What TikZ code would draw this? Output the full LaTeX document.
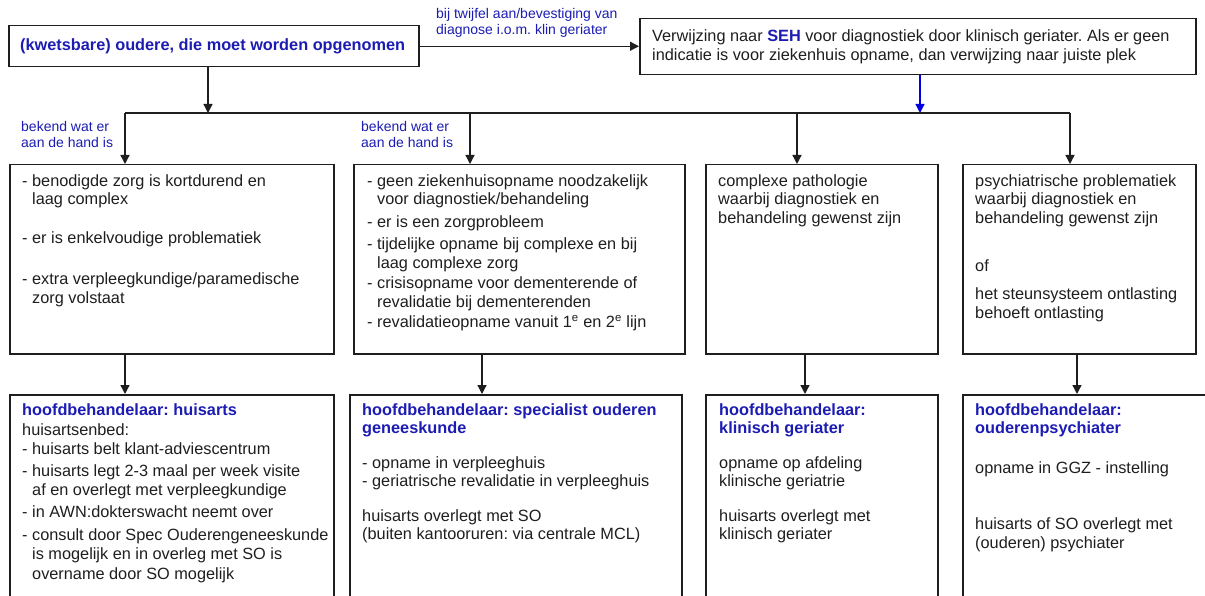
\documentclass[tikz,border=0pt]{standalone}
\usepackage{fontspec}
\setmainfont{Liberation Sans}
\usetikzlibrary{arrows.meta}
\definecolor{headblue}{RGB}{28,28,178}
\definecolor{linkblue}{RGB}{0,0,225}
\definecolor{ink}{RGB}{30,30,30}
\newcommand{\hd}[1]{\textcolor{headblue}{\textbf{#1}}}
\newcommand{\hng}{\hspace*{10pt}}
\frenchspacing

\begin{document}
\begin{tikzpicture}[x=1pt,y=-1pt,>={Triangle[length=9pt,width=9pt]},
  box/.style={draw=ink,line width=1.5pt,anchor=north west,inner sep=0pt},
  txt/.style={anchor=north west,inner sep=0pt,align=left,text=ink,font=\fontsize{16.3}{18.5}\selectfont},
  note/.style={anchor=north west,inner sep=0pt,align=left,text=headblue,font=\fontsize{14}{16}\selectfont},
  link/.style={->,line width=1.3pt,draw=ink}]
  \useasboundingbox (0,0) rectangle (1205,596);
  \clip (0,0) rectangle (1205,596);

  % top row
  \node[box,minimum width=410pt,minimum height=41pt] (start) at (8,25) {};
  \node[anchor=west,inner sep=0pt,text=headblue,font=\fontsize{16.3}{18.5}\selectfont\bfseries] (startt)
    at ([xshift=12pt]start.west) {(kwetsbare) oudere, die moet worden opgenomen};
  \node[box,minimum width=556pt,minimum height=56pt] (seh) at (639,18) {};
  \node[txt,anchor=west] (seht) at ([xshift=13pt]seh.west)
    {Verwijzing naar \hd{SEH} voor diagnostiek door klinisch geriater. Als er geen\\
     indicatie is voor ziekenhuis opname, dan verwijzing naar juiste plek};
  \node[note] (doubt) at (436,8) {bij twijfel aan/bevestiging van\\diagnose i.o.m. klin geriater};
  \draw[link] (start.east) -- (seh.west |- start.east);

  % conditions
  \node[box,minimum width=324pt,minimum height=189pt] (c1) at (9,164) {};
  \node[box,minimum width=331pt,minimum height=189pt] (c2) at (353,164) {};
  \node[box,minimum width=232pt,minimum height=189pt] (c3) at (705,164) {};
  \node[box,minimum width=233pt,minimum height=189pt] (c4) at (962,164) {};

  % hoofdbehandelaar
  \node[box,minimum width=324pt,minimum height=260pt] (r1) at (9,394) {};
  \node[box,minimum width=332pt,minimum height=260pt] (r2) at (349,394) {};
  \node[box,minimum width=232pt,minimum height=260pt] (r3) at (705,394) {};
  \node[box,minimum width=280pt,minimum height=260pt] (r4) at (962,394) {};

  \coordinate (split) at (208,113);
  \coordinate (join) at (920,113);
  \draw[link] (split |- start.south) -- (split);
  \draw[link,draw=linkblue] (join |- seh.south) -- (join);
  \foreach \i/\x in {1/125,2/470,3/797,4/1070}
    \coordinate (d\i) at (\x,113);
  \draw[line width=1.3pt,draw=ink] (d1) -- (d4);
  \foreach \i in {1,...,4}
    \draw[link] (d\i) -- (d\i |- c\i.north);
  \foreach \i/\x in {1/125,2/482,3/805,4/1077} {
    \coordinate (a\i) at (\x,0);
    \draw[link] (c\i.south -| a\i) -- (r\i.north -| a\i);
  }

  \node[note] (known1) at (21,121) {bekend wat er\\aan de hand is};
  \node[note] (known2) at (361,121) {bekend wat er\\aan de hand is};

  \node[txt] (c1t) at ([shift={(13,10)}]c1.north west)
    {- benodigde zorg is kortdurend en\\
     \hng laag complex\\[20pt]
     - er is enkelvoudige problematiek\\[23pt]
     - extra verpleegkundige/paramedische\\
     \hng zorg volstaat};
  \node[txt] (c2t) at ([shift={(14,10)}]c2.north west)
    {- geen ziekenhuisopname noodzakelijk\\
     \hng voor diagnostiek/behandeling\\[4pt]
     - er is een zorgprobleem\\[4pt]
     - tijdelijke opname bij complexe en bij\\
     \hng laag complexe zorg\\[2pt]
     - crisisopname voor dementerende of\\
     \hng revalidatie bij dementerenden\\[2pt]
     - revalidatieopname vanuit 1\textsuperscript{e} en 2\textsuperscript{e} lijn};
  \node[txt] (c3t) at ([shift={(13,10)}]c3.north west)
    {complexe pathologie\\waarbij diagnostiek en\\behandeling gewenst zijn};
  \node[txt] (c4t) at ([shift={(13,10)}]c4.north west)
    {psychiatrische problematiek\\waarbij diagnostiek en\\behandeling gewenst zijn\\[30pt]
     of\\[9.5pt]
     het steunsysteem ontlasting\\behoeft ontlasting};

  \node[txt] (r1t) at ([shift={(13,9)}]r1.north west)
    {\hd{hoofdbehandelaar: huisarts}\\[2pt]
     huisartsenbed:\\
     - huisarts belt klant-adviescentrum\\[4pt]
     - huisarts legt 2-3 maal per week visite\\
     \hng af en overlegt met verpleegkundige\\[4pt]
     - in AWN:dokterswacht neemt over\\[4pt]
     - consult door Spec Ouderengeneeskunde\\[1pt]
     \hng is mogelijk en in overleg met SO is\\[1pt]
     \hng overname door SO mogelijk};
  \node[txt] (r2t) at ([shift={(13,9)}]r2.north west)
    {\hd{hoofdbehandelaar: specialist ouderen}\\
     \hd{geneeskunde}\\[16pt]
     - opname in verpleeghuis\\
     - geriatrische revalidatie in verpleeghuis\\[16pt]
     huisarts overlegt met SO\\
     (buiten kantooruren: via centrale MCL)};
  \node[txt] (r3t) at ([shift={(14,9)}]r3.north west)
    {\hd{hoofdbehandelaar:}\\\hd{klinisch geriater}\\[16pt]
     opname op afdeling\\klinische geriatrie\\[16pt]
     huisarts overlegt met\\klinisch geriater};
  \node[txt] (r4t) at ([shift={(13,9)}]r4.north west)
    {\hd{hoofdbehandelaar:}\\\hd{ouderenpsychiater}\\[21pt]
     opname in GGZ - instelling\\[38pt]
     huisarts of SO overlegt met\\(ouderen) psychiater};
\end{tikzpicture}
\end{document}
